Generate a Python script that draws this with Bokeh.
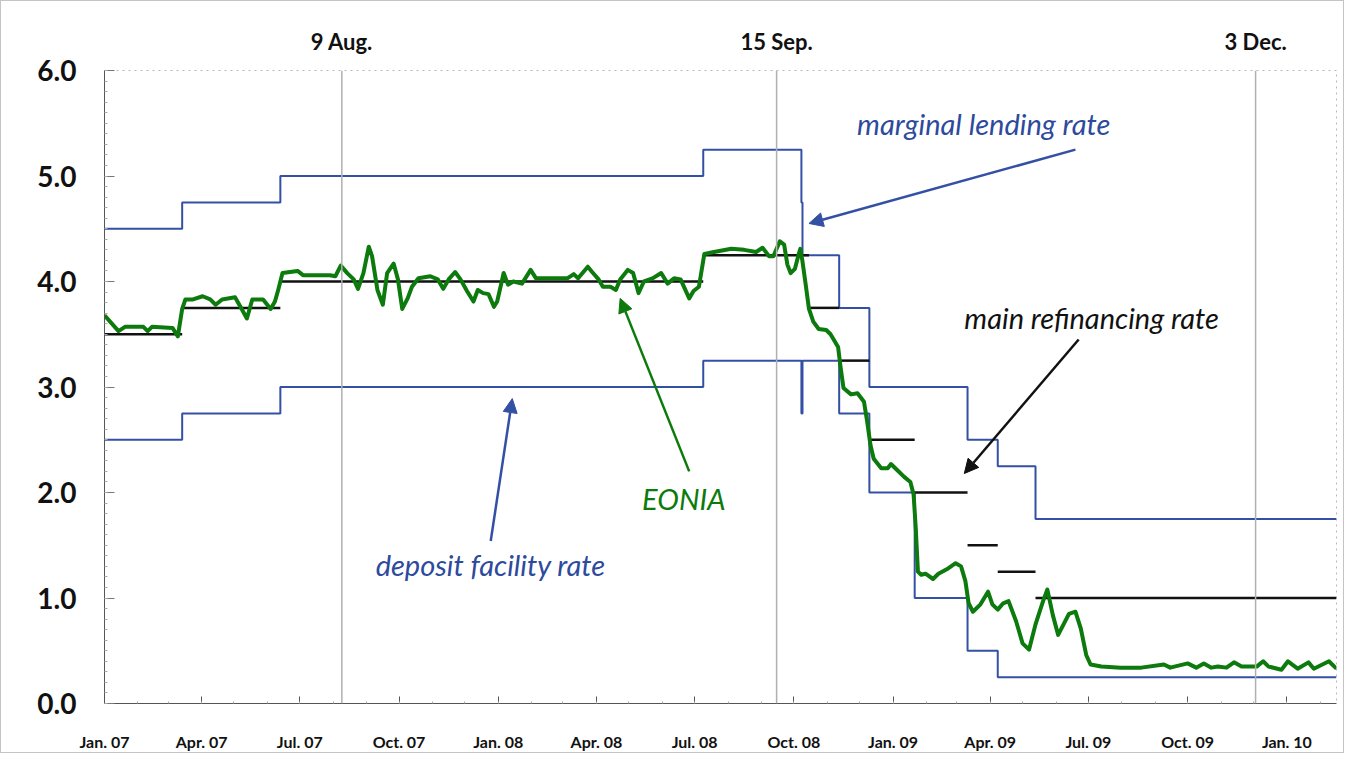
import pandas as pd
from bokeh.plotting import figure
from bokeh.models import (ColumnDataSource, Range1d, FixedTicker, SingleIntervalTicker,
                          NumeralTickFormatter, Span, Label, Arrow, NormalHead, DatetimeAxis)
from bokeh.embed import file_html
from bokeh.resources import INLINE

# ---------------- data ----------------
x_start = "2007-01-01"
x_end = "2010-02-16"

# marginal lending rate (step, value valid from date)
ml_dates = ["2007-01-01", "2007-03-14", "2007-06-13", "2008-07-09", "2008-10-08", "2008-10-09",
            "2008-11-12", "2008-12-10", "2009-03-11", "2009-04-08", "2009-05-13", "2010-02-16"]
ml_rates = [4.50, 4.75, 5.00, 5.25, 4.75, 4.25, 3.75, 3.00, 2.50, 2.25, 1.75, 1.75]

# deposit facility rate
df_dates = ["2007-01-01", "2007-03-14", "2007-06-13", "2008-07-09", "2008-10-08", "2008-10-09",
            "2008-11-12", "2008-12-10", "2009-01-21", "2009-03-11", "2009-04-08", "2010-02-16"]
df_rates = [2.50, 2.75, 3.00, 3.25, 2.75, 3.25, 2.75, 2.00, 1.00, 0.50, 0.25, 0.25]

# main refinancing rate (segments)
mro_from = ["2007-01-01", "2007-03-14", "2007-06-13", "2008-07-09", "2008-10-15", "2008-11-12",
            "2008-12-10", "2009-01-21", "2009-03-11", "2009-04-08", "2009-05-13"]
mro_to = ["2007-03-14", "2007-06-13", "2008-07-09", "2008-10-15", "2008-11-12", "2008-12-10",
          "2009-01-21", "2009-03-11", "2009-04-08", "2009-05-13", "2010-02-16"]
mro_rates = [3.50, 3.75, 4.00, 4.25, 3.75, 3.25, 2.50, 2.00, 1.50, 1.25, 1.00]

# EONIA
eonia_dates = [
    "2007-01-01", "2007-01-14", "2007-01-20", "2007-02-06", "2007-02-10", "2007-02-14",
    "2007-03-05", "2007-03-10", "2007-03-14", "2007-03-17", "2007-03-24", "2007-04-02",
    "2007-04-09", "2007-04-14", "2007-04-20", "2007-05-02", "2007-05-07", "2007-05-13",
    "2007-05-18", "2007-05-28", "2007-06-04", "2007-06-08", "2007-06-11", "2007-06-15",
    "2007-06-22", "2007-06-29", "2007-07-04", "2007-07-29", "2007-08-03", "2007-08-08",
    "2007-08-14", "2007-08-20", "2007-08-24", "2007-08-29", "2007-09-03", "2007-09-06",
    "2007-09-11", "2007-09-16", "2007-09-20", "2007-09-26", "2007-09-30", "2007-10-04",
    "2007-10-09", "2007-10-13", "2007-10-19", "2007-10-30", "2007-11-06", "2007-11-11",
    "2007-11-16", "2007-11-22", "2007-11-27", "2007-12-03", "2007-12-09", "2007-12-13",
    "2007-12-18", "2007-12-23", "2007-12-28", "2007-12-31", "2008-01-06", "2008-01-10",
    "2008-01-15", "2008-01-23", "2008-01-31", "2008-02-05", "2008-02-16", "2008-03-05",
    "2008-03-11", "2008-03-15", "2008-03-24", "2008-03-28", "2008-04-03", "2008-04-07",
    "2008-04-14", "2008-04-19", "2008-04-23", "2008-04-30", "2008-05-05", "2008-05-10",
    "2008-05-15", "2008-05-23", "2008-05-31", "2008-06-06", "2008-06-12", "2008-06-18",
    "2008-06-26", "2008-06-30", "2008-07-05", "2008-07-10", "2008-07-19", "2008-08-04",
    "2008-08-16", "2008-08-27", "2008-09-02", "2008-09-08", "2008-09-12", "2008-09-18",
    "2008-09-22", "2008-09-25", "2008-09-28", "2008-10-02", "2008-10-05", "2008-10-07",
    "2008-10-09", "2008-10-12", "2008-10-15", "2008-10-19", "2008-10-24", "2008-10-31",
    "2008-11-04", "2008-11-11", "2008-11-13", "2008-11-16", "2008-11-23", "2008-11-29",
    "2008-12-05", "2008-12-08", "2008-12-11", "2008-12-14", "2008-12-21", "2008-12-27",
    "2008-12-30", "2009-01-04", "2009-01-11", "2009-01-17", "2009-01-20", "2009-01-22",
    "2009-01-24", "2009-01-27", "2009-01-31", "2009-02-07", "2009-02-12", "2009-02-21",
    "2009-02-28", "2009-03-05", "2009-03-09", "2009-03-12", "2009-03-16", "2009-03-23",
    "2009-03-30", "2009-04-03", "2009-04-08", "2009-04-13", "2009-04-18", "2009-04-25",
    "2009-05-01", "2009-05-07", "2009-05-13", "2009-05-20", "2009-05-24", "2009-05-29",
    "2009-06-03", "2009-06-08", "2009-06-13", "2009-06-19", "2009-06-24", "2009-06-29",
    "2009-07-03", "2009-07-13", "2009-07-31", "2009-08-19", "2009-09-09", "2009-09-15",
    "2009-10-01", "2009-10-09", "2009-10-16", "2009-10-23", "2009-10-29", "2009-11-06",
    "2009-11-13", "2009-11-20", "2009-12-04", "2009-12-10", "2009-12-15", "2009-12-27",
    "2010-01-02", "2010-01-11", "2010-01-21", "2010-01-26", "2010-02-09", "2010-02-16"]
eonia_values = [
    3.68, 3.53, 3.57, 3.57, 3.53, 3.57,
    3.56, 3.48, 3.74, 3.83, 3.83, 3.86,
    3.83, 3.78, 3.83, 3.85, 3.76, 3.65,
    3.83, 3.83, 3.74, 3.81, 3.92, 4.08,
    4.09, 4.10, 4.06, 4.06, 4.05, 4.15,
    4.08, 4.02, 3.93, 4.08, 4.33, 4.24,
    3.92, 3.78, 4.08, 4.17, 4.02, 3.74,
    3.84, 3.95, 4.03, 4.05, 4.02, 3.93,
    4.02, 4.09, 4.02, 3.91, 3.81, 3.92,
    3.89, 3.88, 3.76, 3.81, 4.08, 3.97,
    4.00, 3.98, 4.11, 4.03, 4.03, 4.03,
    4.07, 4.03, 4.14, 4.09, 4.02, 3.95,
    3.95, 3.92, 4.02, 4.11, 4.08, 3.89,
    4.00, 4.03, 4.08, 3.98, 4.03, 4.02,
    3.84, 3.91, 3.95, 4.26, 4.28, 4.31,
    4.30, 4.28, 4.32, 4.24, 4.24, 4.38,
    4.35, 4.16, 4.08, 4.12, 4.24, 4.31,
    4.19, 3.97, 3.74, 3.62, 3.55, 3.54,
    3.50, 3.38, 3.21, 2.99, 2.93, 2.94,
    2.86, 2.67, 2.45, 2.32, 2.23, 2.23,
    2.27, 2.22, 2.15, 2.10, 1.98, 1.66,
    1.25, 1.22, 1.23, 1.18, 1.23, 1.28,
    1.33, 1.30, 1.16, 0.95, 0.87, 0.94,
    1.06, 0.94, 0.89, 0.95, 0.97, 0.78,
    0.57, 0.51, 0.75, 0.97, 1.08, 0.84,
    0.65, 0.75, 0.85, 0.87, 0.71, 0.46,
    0.37, 0.35, 0.34, 0.34, 0.37, 0.34,
    0.38, 0.34, 0.38, 0.34, 0.35, 0.34,
    0.39, 0.35, 0.35, 0.40, 0.35, 0.32,
    0.40, 0.33, 0.39, 0.33, 0.40, 0.33]

# x-axis ticks
tick_dates = ["2007-01-01", "2007-04-01", "2007-07-01", "2007-10-01", "2008-01-01", "2008-04-01",
              "2008-07-01", "2008-10-01", "2009-01-01", "2009-04-01", "2009-07-01", "2009-10-01",
              "2010-01-01"]
tick_labels = ["Jan. 07", "Apr. 07", "Jul. 07", "Oct. 07", "Jan. 08", "Apr. 08", "Jul. 08",
               "Oct. 08", "Jan. 09", "Apr. 09", "Jul. 09", "Oct. 09", "Jan. 10"]

# event markers
event_dates = ["2007-08-09", "2008-09-15", "2009-12-03"]
event_labels = ["9 Aug.", "15 Sep.", "3 Dec."]

# ---------------- helpers ----------------
def ms(d):
    return pd.Timestamp(d).value / 1e6

BLUE = "#3450a4"
TBLUE = "#2d4a9c"
GREEN = "#0c7a0c"
FONT = "Lato"

p = figure(width=1344, height=753, x_axis_type="datetime", output_backend="svg",
           toolbar_location=None, min_border_left=103, min_border_right=9,
           min_border_top=69, min_border_bottom=51,
           x_range=Range1d(ms(x_start), ms(x_end)), y_range=Range1d(0, 6))
p.styles = {"border": "1px solid #c4c4c4", "box-sizing": "border-box"}
p.xgrid.visible = False
p.ygrid.visible = False
p.outline_line_color = "#b8b8b8"
p.outline_line_dash = "2 4"
p.outline_line_width = 1

# event spans
for d in event_dates:
    p.add_layout(Span(location=ms(d), dimension="height", line_color="#b0b0b0", line_width=1.5))

# series
ml_src = ColumnDataSource(dict(x=pd.to_datetime(ml_dates), y=ml_rates))
df_src = ColumnDataSource(dict(x=pd.to_datetime(df_dates), y=df_rates))
p.step("x", "y", source=ml_src, mode="after", line_color=BLUE, line_width=2)
p.step("x", "y", source=df_src, mode="after", line_color=BLUE, line_width=2)

mro_src = ColumnDataSource(dict(x0=pd.to_datetime(mro_from), x1=pd.to_datetime(mro_to),
                                y=mro_rates))
p.segment(x0="x0", y0="y", x1="x1", y1="y", source=mro_src, line_color="#111111", line_width=2.5)

eo_src = ColumnDataSource(dict(x=pd.to_datetime(eonia_dates), y=eonia_values))
p.line("x", "y", source=eo_src, line_color=GREEN, line_width=4, line_join="round")

# axes
p.yaxis.ticker = SingleIntervalTicker(interval=1, num_minor_ticks=10)
p.yaxis.formatter = NumeralTickFormatter(format="0.0")
p.yaxis.major_label_text_font = FONT
p.yaxis.major_label_text_font_style = "bold"
p.yaxis.major_label_text_font_size = "28px"
p.yaxis.major_label_text_color = "#111111"
p.yaxis.major_label_standoff = 28
p.yaxis.major_tick_in = 10
p.yaxis.major_tick_out = 0
p.yaxis.minor_tick_in = 3
p.yaxis.minor_tick_out = 0
p.yaxis.axis_line_color = "#555555"
p.yaxis.major_tick_line_color = "#777777"
p.yaxis.minor_tick_line_color = "#aaaaaa"

month_ms = [ms(d) for d in pd.date_range(x_start, x_end, freq="MS")]
p.xaxis.ticker = FixedTicker(ticks=[ms(d) for d in tick_dates], minor_ticks=month_ms)
p.xaxis.major_label_overrides = {ms(d): lab for d, lab in zip(tick_dates, tick_labels)}
p.xaxis.major_label_text_font = FONT
p.xaxis.major_label_text_font_style = "bold"
p.xaxis.major_label_text_font_size = "16px"
p.xaxis.major_label_text_color = "#111111"
p.xaxis.major_label_standoff = 28
p.xaxis.major_tick_in = 7
p.xaxis.major_tick_out = 0
p.xaxis.minor_tick_in = 2
p.xaxis.minor_tick_out = 0
p.xaxis.axis_line_color = "#555555"
p.xaxis.major_tick_line_color = "#555555"
p.xaxis.minor_tick_line_color = "#aaaaaa"

# top event labels as an axis above
top = DatetimeAxis(ticker=FixedTicker(ticks=[ms(d) for d in event_dates], minor_ticks=[]))
top.major_label_overrides = {ms(d): lab for d, lab in zip(event_dates, event_labels)}
top.axis_line_color = None
top.major_tick_line_color = None
top.minor_tick_line_color = None
top.major_label_text_font = FONT
top.major_label_text_font_style = "bold"
top.major_label_text_font_size = "22px"
top.major_label_text_color = "#111111"
top.major_label_standoff = 10
p.add_layout(top, "above")

# annotations
notes = [
    ("marginal lending rate", "2009-03-26", 5.50, TBLUE),
    ("main refinancing rate", "2009-07-04", 3.66, "#111111"),
    ("EONIA", "2008-06-21", 1.94, GREEN),
    ("deposit facility rate", "2007-12-25", 1.32, TBLUE),
]
for txt, d, yv, c in notes:
    p.add_layout(Label(x=ms(d), y=yv, text=txt, text_font=FONT, text_font_style="italic",
                       text_font_size="29px", text_color=c, text_align="center",
                       text_baseline="middle"))

arrows = [
    ("2009-06-19", 5.25, "2008-10-15", 4.55, BLUE),
    ("2009-06-22", 3.45, "2009-03-08", 2.18, "#111111"),
    ("2008-06-26", 2.20, "2008-04-23", 3.84, GREEN),
    ("2007-12-25", 1.54, "2008-01-14", 2.89, BLUE),
]
for xs, ys, xe, ye, c in arrows:
    p.add_layout(Arrow(x_start=ms(xs), y_start=ys, x_end=ms(xe), y_end=ye,
                       line_color=c, line_width=2.5,
                       end=NormalHead(size=14, fill_color=c, line_color=c)))

open("out.html", "w").write(file_html(p, INLINE))
